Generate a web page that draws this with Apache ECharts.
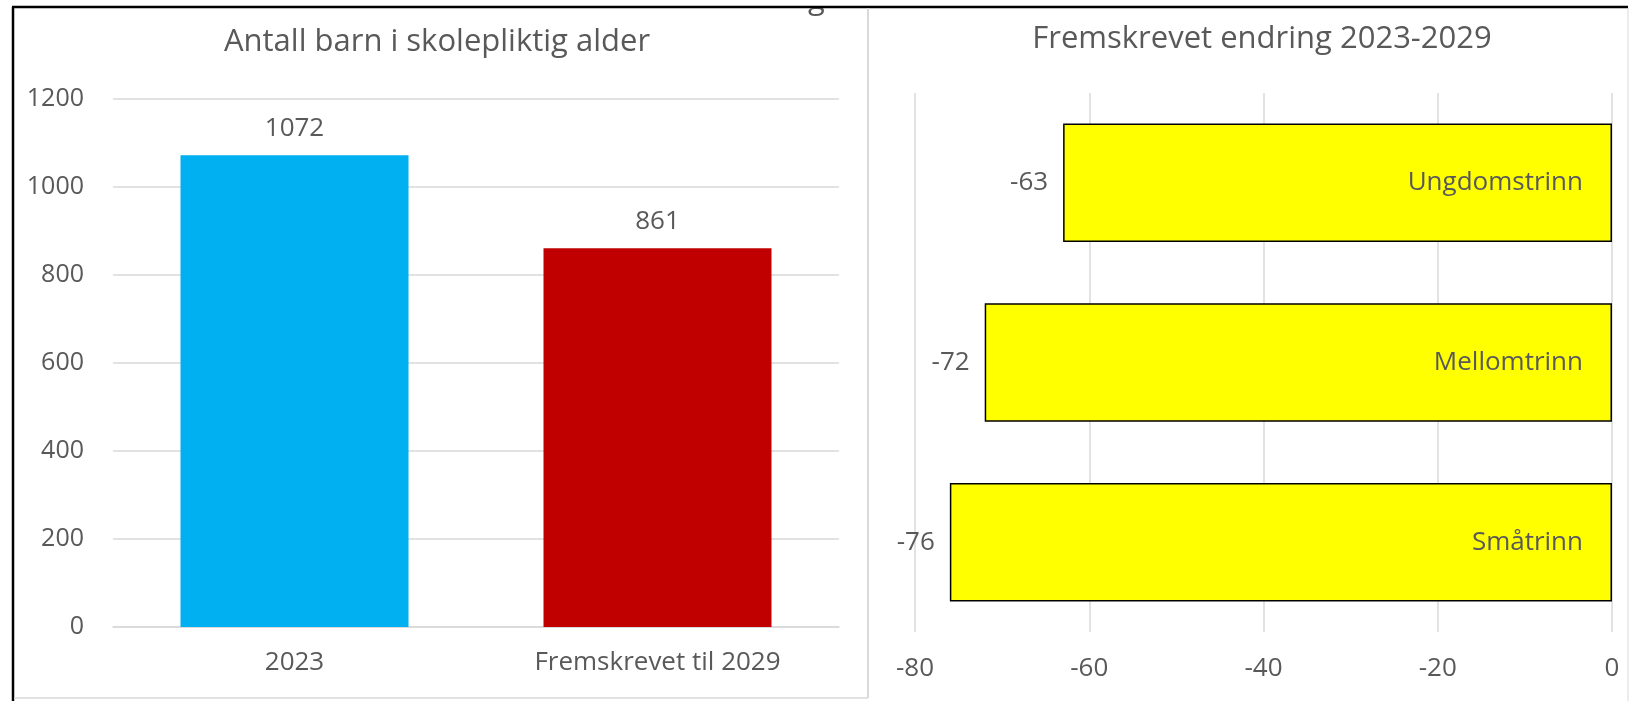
<!DOCTYPE html>
<html>
<head>
<meta charset="utf-8">
<script src="https://cdn.jsdelivr.net/npm/echarts@6/dist/echarts.min.js"></script>
<style>
html,body{margin:0;padding:0;background:#fff;}
#c{width:1629px;height:701px;}
</style>
</head>
<body>
<div id="c"></div>
<script>
// Left chart data
const leftTitle = 'Antall barn i skolepliktig alder';
const leftCategories = ['2023', 'Fremskrevet til 2029'];
const leftValues = [1072, 861];
const leftColors = ['#00B0F0', '#C00000'];

// Right chart data (top to bottom)
const rightTitle = 'Fremskrevet endring 2023-2029';
const rightCategories = ['Ungdomstrinn', 'Mellomtrinn', 'Småtrinn'];
const rightValues = [-63, -72, -76];

const FONT = 'Open Sans';
const TXT = '#595959';
const GRID = '#D9D9D9';

const chart = echarts.init(document.getElementById('c'), null, {renderer: 'canvas'});
chart.setOption({
  animation: false,
  backgroundColor: '#fff',
  textStyle: {fontFamily: FONT, color: TXT},
  title: [
    {text: leftTitle, left: 432, top: 22, textAlign: 'center',
     textStyle: {fontFamily: FONT, fontSize: 31, fontWeight: 'normal', color: TXT}},
    {text: rightTitle, left: 1257, top: 19, textAlign: 'center',
     textStyle: {fontFamily: FONT, fontSize: 31, fontWeight: 'normal', color: TXT}}
  ],
  grid: [
    {left: 113, right: 790, top: 99, bottom: 74},
    {left: 915, right: 17, top: 93, bottom: 69}
  ],
  xAxis: [
    {gridIndex: 0, type: 'category', data: leftCategories,
     axisLine: {lineStyle: {color: GRID, width: 1.5}}, axisTick: {show: false},
     axisLabel: {color: TXT, fontFamily: FONT, fontSize: 26, margin: 23}},
    {gridIndex: 1, type: 'value', min: -80, max: 0, interval: 20,
     axisLine: {show: false}, axisTick: {show: false},
     splitLine: {lineStyle: {color: GRID, width: 1.5}},
     axisLabel: {color: TXT, fontFamily: FONT, fontSize: 26, margin: 24,
                 formatter: v => String(v)}}
  ],
  yAxis: [
    {gridIndex: 0, type: 'value', min: 0, max: 1200, interval: 200,
     axisLine: {show: false}, axisTick: {show: false},
     splitLine: {lineStyle: {color: GRID, width: 1.5}},
     axisLabel: {color: TXT, fontFamily: FONT, fontSize: 25, margin: 29,
                 formatter: v => String(v)}},
    {gridIndex: 1, type: 'category', data: rightCategories, inverse: true,
     position: 'right', z: 10,
     axisLine: {show: false}, axisTick: {show: false},
     axisLabel: {inside: true, margin: 29, color: TXT, fontFamily: FONT, fontSize: 26}}
  ],
  series: [
    {type: 'bar', xAxisIndex: 0, yAxisIndex: 0, barWidth: 228,
     data: leftValues.map((v, i) => ({value: v, itemStyle: {color: leftColors[i]}})),
     label: {show: true, position: 'top', distance: 14, color: TXT, fontFamily: FONT, fontSize: 26}},
    {type: 'bar', xAxisIndex: 1, yAxisIndex: 1, barCategoryGap: '34%',
     data: rightValues,
     itemStyle: {color: '#FFFF00', borderColor: '#000', borderWidth: 1.5},
     label: {show: true, position: 'left', distance: 15, color: TXT, fontFamily: FONT, fontSize: 26}}
  ],
  graphic: [
    {type: 'text', left: 808, top: -15, z: 1,
     style: {text: 'g', fontFamily: FONT, fontSize: 31, fill: TXT}},
    {type: 'rect', shape: {x: 0, y: 0, width: 1629, height: 6}, style: {fill: '#fff'}, z: 2},
    {type: 'line', shape: {x1: 12, y1: 7, x2: 1628, y2: 7}, style: {stroke: '#000', lineWidth: 2.5}, z: 3},
    {type: 'line', shape: {x1: 13, y1: 7, x2: 13, y2: 701}, style: {stroke: '#000', lineWidth: 2.5}, z: 3},
    {type: 'line', shape: {x1: 868, y1: 8, x2: 868, y2: 698}, style: {stroke: GRID, lineWidth: 2}, z: 3},
    {type: 'line', shape: {x1: 14, y1: 698, x2: 868, y2: 698}, style: {stroke: GRID, lineWidth: 1.5}, z: 3},
    {type: 'line', shape: {x1: 1628, y1: 8, x2: 1628, y2: 701}, style: {stroke: GRID, lineWidth: 1}, z: 3}
  ]
});
</script>
</body>
</html>
